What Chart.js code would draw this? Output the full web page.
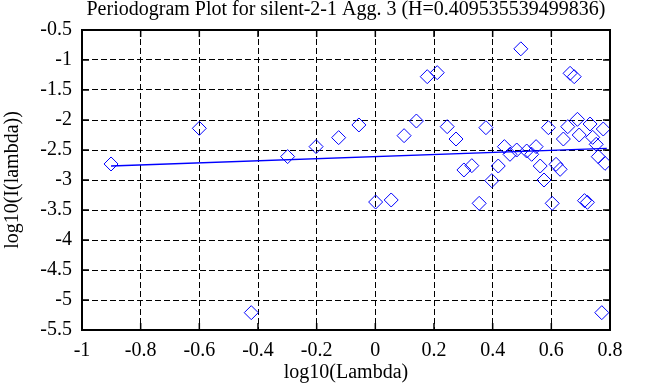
<!DOCTYPE html>
<html>
<head>
<meta charset="utf-8">
<script src="https://cdn.jsdelivr.net/npm/chart.js@4.4.1/dist/chart.umd.min.js"></script>
<style>
  html, body { margin: 0; padding: 0; background: #fff; }
  #wrap { width: 653px; height: 387px; }
</style>
</head>
<body>
<div id="wrap"><canvas id="periodogram"></canvas></div>
<script>
// --- data ---
const logLambda = [
  -0.901, -0.600, -0.299, -0.202, -0.125, -0.056, 0.098, 0.140, 0.177, 0.211,
  0.245, 0.275, 0.377, 0.496, 0.664, 0.678, 0.590, 0.656, 0.689, 0.641,
  0.695, 0.732, 0.741, 0.777, 0.753, 0.760, 0.783, 0.440, 0.459, 0.482,
  0.516, 0.533, 0.548, 0.562, 0.616, 0.630, 0.575, 0.419, 0.397, 0.302,
  0.329, 0.001, 0.054, 0.354, 0.603, 0.713, 0.723, 0.772, -0.423
];
const logPeriodogram = [
  -2.733, -2.139, -2.610, -2.444, -2.294, -2.083, -2.261, -2.017, -1.278, -1.211,
  -2.111, -2.317, -2.128, -0.814, -1.222, -1.278, -2.128, -2.111, -1.989, -2.317,
  -2.250, -2.067, -2.289, -2.150, -2.405, -2.611, -2.722, -2.444, -2.572, -2.500,
  -2.517, -2.572, -2.444, -2.767, -2.739, -2.822, -3.000, -2.767, -3.011, -2.833,
  -2.761, -3.367, -3.333, -3.389, -3.389, -3.344, -3.372, -5.211, -5.211
];
// least squares fit line (end points)
const fitX = [-0.901, 0.789];
const fitY = [-2.767, -2.472];

const xTicks = [-1, -0.8, -0.6, -0.4, -0.2, 0, 0.2, 0.4, 0.6, 0.8];
const yTicks = [-0.5, -1, -1.5, -2, -2.5, -3, -3.5, -4, -4.5, -5, -5.5];

const titleText = 'Periodogram Plot for silent-2-1 Agg. 3 (H=0.409535539499836)';
const FONT = 'Liberation Serif, Times New Roman, serif';

// box round the plot + small inner tick marks like gnuplot, title over the plot area
const frame = {
  id: 'frame',
  afterDraw(chart) {
    const { ctx, chartArea: a, scales: { x, y } } = chart;
    ctx.save();
    ctx.strokeStyle = '#000';
    ctx.lineWidth = 1.5;
    ctx.beginPath();
    xTicks.forEach(v => {
      const px = x.getPixelForValue(v);
      ctx.moveTo(px, a.bottom); ctx.lineTo(px, a.bottom - 7);
      ctx.moveTo(px, a.top); ctx.lineTo(px, a.top + 7);
    });
    yTicks.forEach(v => {
      const py = y.getPixelForValue(v);
      ctx.moveTo(a.left, py); ctx.lineTo(a.left + 7, py);
      ctx.moveTo(a.right, py); ctx.lineTo(a.right - 7, py);
    });
    ctx.stroke();
    ctx.lineWidth = 2;
    ctx.strokeRect(a.left, a.top, a.right - a.left, a.bottom - a.top);

    ctx.fillStyle = '#000';
    ctx.font = '20px ' + FONT;
    ctx.textAlign = 'center';
    ctx.textBaseline = 'alphabetic';
    ctx.fillText(titleText, (a.left + a.right) / 2, 15);
    ctx.restore();
  }
};

new Chart(document.getElementById('periodogram'), {
  type: 'scatter',
  data: {
    datasets: [
      {
        data: logLambda.map((v, i) => ({ x: v, y: logPeriodogram[i] })),
        pointStyle: 'rectRot',
        pointRadius: 7,
        pointBorderWidth: 1,
        pointBorderColor: '#0000ff',
        pointBackgroundColor: 'rgba(0,0,0,0)',
        showLine: false
      },
      {
        data: fitX.map((v, i) => ({ x: v, y: fitY[i] })),
        showLine: true,
        borderColor: '#0000ff',
        borderWidth: 1.3,
        pointRadius: 0,
        fill: false
      }
    ]
  },
  options: {
    responsive: true,
    maintainAspectRatio: false,
    animation: false,
    layout: { padding: { left: 0, right: 43, top: 30, bottom: 0 } },
    plugins: {
      legend: { display: false },
      tooltip: { enabled: false },
      title: { display: false }
    },
    scales: {
      x: {
        type: 'linear',
        min: -1, max: 0.8,
        afterBuildTicks: s => { s.ticks = xTicks.map(v => ({ value: v })); },
        afterFit: s => { s.height = 57; },
        ticks: {
          color: '#000', padding: 9,
          font: { family: FONT, size: 20 },
          callback: v => String(v)
        },
        grid: { color: '#000', lineWidth: 1, drawTicks: false },
        border: { display: true, color: '#000', width: 2, dash: [6, 3] },
        title: {
          display: true, text: 'log10(Lambda)', color: '#000',
          font: { family: FONT, size: 20 },
          padding: { top: 0, bottom: 2 }
        }
      },
      y: {
        type: 'linear',
        min: -5.5, max: -0.5,
        afterBuildTicks: s => { s.ticks = yTicks.map(v => ({ value: v })); },
        afterFit: s => { s.width = 82; },
        ticks: {
          color: '#000', padding: 10,
          font: { family: FONT, size: 20 },
          callback: v => String(v)
        },
        grid: { color: '#000', lineWidth: 1, drawTicks: false },
        border: { display: true, color: '#000', width: 2, dash: [6, 3] },
        title: {
          display: true, text: 'log10(I(lambda))', color: '#000',
          font: { family: FONT, size: 20 },
          padding: { top: 1, bottom: 0 }
        }
      }
    }
  },
  plugins: [frame]
});
</script>
</body>
</html>
